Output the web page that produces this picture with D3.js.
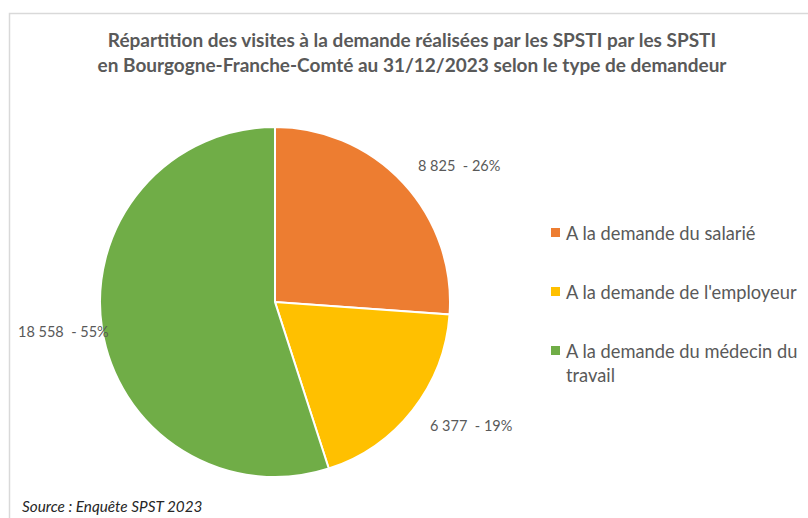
<!DOCTYPE html>
<html>
<head>
<meta charset="utf-8">
<script src="https://cdn.jsdelivr.net/npm/d3@7"></script>
<style>
body { margin: 0; background: #fff; }
svg { font-family: Lato, "Open Sans", sans-serif; }
</style>
</head>
<body>
<script>
var categories = ["A la demande du salarié", "A la demande de l'employeur", "A la demande du médecin du travail"];
var values = [8825, 6377, 18558];
var labels = ["8 825  - 26%", "6 377  - 19%", "18 558  - 55%"];
var colors = ["#ED7D31", "#FFC000", "#70AD47"];

var width = 808, height = 518,
	cx = 275, cy = 302, radius = 175;

var svg = d3.select("body").append("svg")
	.attr("width", width)
	.attr("height", height);

// frame
svg.append("path")
	.attr("d", "M9.5," + height + "V13.5H" + width)
	.attr("fill", "none")
	.attr("stroke", "#d9d9d9")
	.attr("stroke-width", 1.5);

svg.append("text")
	.attr("x", 412).attr("y", 47)
	.attr("text-anchor", "middle")
	.attr("font-size", 19).attr("font-weight", "bold")
	.attr("fill", "#595959")
	.text("Répartition des visites à la demande réalisées par les SPSTI par les SPSTI");
svg.append("text")
	.attr("x", 412).attr("y", 72)
	.attr("text-anchor", "middle")
	.attr("font-size", 19).attr("font-weight", "bold")
	.attr("fill", "#595959")
	.text("en Bourgogne-Franche-Comté au 31/12/2023 selon le type de demandeur");

var pie = d3.pie().sort(null).value(function(d) { return d; });
var arc = d3.arc().innerRadius(0).outerRadius(radius);
var arcs = pie(values);

var g = svg.append("g")
	.attr("transform", "translate(" + cx + "," + cy + ")");

g.selectAll(".slice")
	.data(arcs)
	.enter().append("path")
	.attr("class", "slice")
	.attr("d", arc)
	.attr("fill", function(d, i) { return colors[i]; })
	.attr("stroke", "#fff")
	.attr("stroke-width", 2);

// data labels outside slices
var labelPos = [[418, 171], [430, 431], [18, 337]];
svg.selectAll(".lbl")
	.data(labels)
	.enter().append("text")
	.attr("class", "lbl")
	.attr("x", function(d, i) { return labelPos[i][0]; })
	.attr("y", function(d, i) { return labelPos[i][1]; })
	.attr("font-size", 14.5)
	.attr("fill", "#595959")
	.style("white-space", "pre")
	.text(function(d) { return d; });

// legend
var legendY = d3.scalePoint().domain(categories).range([233, 351]);
var leg = svg.selectAll(".leg")
	.data(categories)
	.enter().append("g")
	.attr("class", "leg")
	.attr("transform", function(d) { return "translate(551," + legendY(d) + ")"; });
leg.append("rect")
	.attr("x", 0).attr("y", -5)
	.attr("width", 9).attr("height", 9)
	.attr("fill", function(d, i) { return colors[i]; });
leg.append("text")
	.attr("x", 15).attr("y", 6.5)
	.attr("font-size", 18.3)
	.attr("fill", "#595959")
	.each(function(d) {
		var t = d3.select(this);
		var lines = d === categories[2] ? ["A la demande du médecin du", "travail"] : [d];
		lines.forEach(function(l, k) {
			t.append("tspan").attr("x", 15).attr("dy", k ? 24 : 0).text(l);
		});
	});

svg.append("text")
	.attr("x", 22).attr("y", 512)
	.attr("font-size", 15.3)
	.attr("font-style", "italic")
	.attr("fill", "#262626")
	.text("Source : Enquête SPST 2023");
</script>
</body>
</html>
